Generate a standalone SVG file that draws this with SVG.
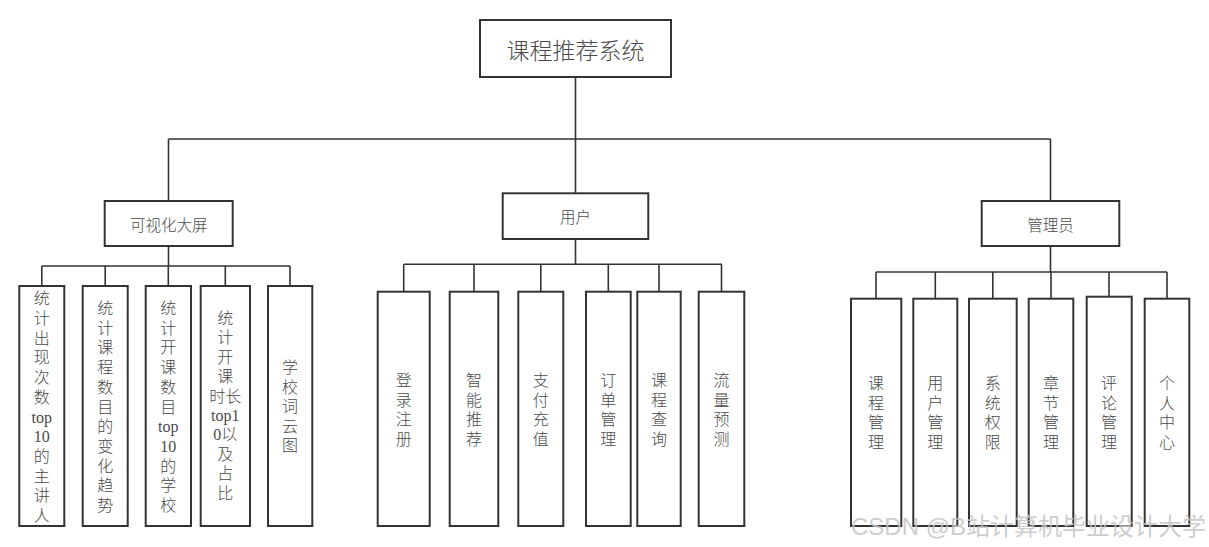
<svg xmlns="http://www.w3.org/2000/svg" width="1209" height="547" viewBox="0 0 1209 547">
<style>
.box{fill:#fff;stroke:#333;stroke-width:2}
.ln{fill:none;stroke:#333;stroke-width:1.6}
.t{font-family:"Liberation Serif","Noto Sans CJK SC",serif;font-weight:300;fill:#4a4a4a;text-anchor:middle;dominant-baseline:central}
.v{font-size:16px}
.h{font-family:"Noto Sans CJK SC",sans-serif;font-size:15.5px}
.wm{font-family:"Liberation Sans","Noto Sans CJK SC",sans-serif;font-size:24px;fill:#c4c4c4;fill-opacity:0.85;text-anchor:end}
</style>
<rect width="1209" height="547" fill="#fff"/>
<g id="connectors">
<path class="ln" d="M575.5 77V139M168.5 139H1050.5M168.5 139V201M575.5 139V193M1050.5 139V201"/>
<path class="ln" d="M168.5 246V266M41.8 266H290M41.8 266V286M105.2 266V286M168.3 266V286M225.3 266V286M290 266V286"/>
<path class="ln" d="M575.5 239V264.3M403.7 264.3H722M403.7 264.3V291.7M474 264.3V291.7M540.8 264.3V291.7M608.3 264.3V291.7M659 264.3V291.7M721.5 264.3V291.7"/>
<path class="ln" d="M1050.5 246V272M876 272H1167M876 272V298.7M935.3 272V298.7M992.8 272V298.7M1051 272V298.7M1109 272V296.7M1167 272V298.7"/>
</g>
<g id="root"><rect class="box" x="480" y="20" width="191" height="57"/><text class="t" x="575.5" y="49" style="font-family:'Noto Sans CJK SC',sans-serif;font-size:23px">课程推荐系统</text></g>
<g id="n-visual"><rect class="box" x="104.7" y="201" width="128" height="45"/><text class="t h" x="168.7" y="224">可视化大屏</text></g>
<g id="n-user"><rect class="box" x="502.7" y="193.3" width="145.6" height="45.7"/><text class="t h" x="575.5" y="216">用户</text></g>
<g id="n-admin"><rect class="box" x="981.7" y="201" width="137.6" height="45"/><text class="t h" x="1050.5" y="224">管理员</text></g>

<g id="v1"><rect class="box" x="19.3" y="286" width="45" height="240"/><text class="t v"><tspan x="41.8" y="298.3">统</tspan><tspan x="41.8" y="318">计</tspan><tspan x="41.8" y="337.7">出</tspan><tspan x="41.8" y="357.4">现</tspan><tspan x="41.8" y="377.1">次</tspan><tspan x="41.8" y="396.8">数</tspan><tspan x="41.8" y="416.5">top</tspan><tspan x="41.8" y="436.2">10</tspan><tspan x="41.8" y="455.9">的</tspan><tspan x="41.8" y="475.6">主</tspan><tspan x="41.8" y="495.3">讲</tspan><tspan x="41.8" y="515">人</tspan></text></g>
<g id="v2"><rect class="box" x="82.7" y="286" width="45" height="240"/><text class="t v"><tspan x="105.2" y="308">统</tspan><tspan x="105.2" y="327.7">计</tspan><tspan x="105.2" y="347.4">课</tspan><tspan x="105.2" y="367.1">程</tspan><tspan x="105.2" y="386.8">数</tspan><tspan x="105.2" y="406.5">目</tspan><tspan x="105.2" y="426.2">的</tspan><tspan x="105.2" y="445.9">变</tspan><tspan x="105.2" y="465.6">化</tspan><tspan x="105.2" y="485.3">趋</tspan><tspan x="105.2" y="505">势</tspan></text></g>
<g id="v3"><rect class="box" x="145.7" y="286" width="45.3" height="240"/><text class="t v"><tspan x="168.3" y="308">统</tspan><tspan x="168.3" y="327.7">计</tspan><tspan x="168.3" y="347.4">开</tspan><tspan x="168.3" y="367.1">课</tspan><tspan x="168.3" y="386.8">数</tspan><tspan x="168.3" y="406.5">目</tspan><tspan x="168.3" y="426.2">top</tspan><tspan x="168.3" y="445.9">10</tspan><tspan x="168.3" y="465.6">的</tspan><tspan x="168.3" y="485.3">学</tspan><tspan x="168.3" y="505">校</tspan></text></g>
<g id="v4"><rect class="box" x="200.7" y="286" width="49.3" height="240"/><text class="t v"><tspan x="225.3" y="318">统</tspan><tspan x="225.3" y="337.4">计</tspan><tspan x="225.3" y="356.8">开</tspan><tspan x="225.3" y="376.2">课</tspan><tspan x="225.3" y="395.6">时长</tspan><tspan x="225.3" y="415">top1</tspan><tspan x="225.3" y="434.4">0以</tspan><tspan x="225.3" y="453.8">及</tspan><tspan x="225.3" y="473.2">占</tspan><tspan x="225.3" y="492.6">比</tspan></text></g>
<g id="v5"><rect class="box" x="268" y="286" width="44.3" height="240"/><text class="t v"><tspan x="290.1" y="367">学</tspan><tspan x="290.1" y="386.6">校</tspan><tspan x="290.1" y="406.2">词</tspan><tspan x="290.1" y="425.8">云</tspan><tspan x="290.1" y="445.4">图</tspan></text></g>

<g id="u1"><rect class="box" x="377.7" y="291.7" width="52" height="234.3"/><text class="t v"><tspan x="403.7" y="380">登</tspan><tspan x="403.7" y="399.5">录</tspan><tspan x="403.7" y="419">注</tspan><tspan x="403.7" y="438.5">册</tspan></text></g>
<g id="u2"><rect class="box" x="449.7" y="291.7" width="48.6" height="234.3"/><text class="t v"><tspan x="474" y="380">智</tspan><tspan x="474" y="399.5">能</tspan><tspan x="474" y="419">推</tspan><tspan x="474" y="438.5">荐</tspan></text></g>
<g id="u3"><rect class="box" x="518.3" y="291.7" width="45" height="234.3"/><text class="t v"><tspan x="540.8" y="380">支</tspan><tspan x="540.8" y="399.5">付</tspan><tspan x="540.8" y="419">充</tspan><tspan x="540.8" y="438.5">值</tspan></text></g>
<g id="u4"><rect class="box" x="586" y="291.7" width="44.7" height="234.3"/><text class="t v"><tspan x="608.3" y="380">订</tspan><tspan x="608.3" y="399.5">单</tspan><tspan x="608.3" y="419">管</tspan><tspan x="608.3" y="438.5">理</tspan></text></g>
<g id="u5"><rect class="box" x="637.3" y="291.7" width="43.4" height="234.3"/><text class="t v"><tspan x="659" y="380">课</tspan><tspan x="659" y="399.5">程</tspan><tspan x="659" y="419">查</tspan><tspan x="659" y="438.5">询</tspan></text></g>
<g id="u6"><rect class="box" x="698.7" y="291.7" width="45.6" height="234.3"/><text class="t v"><tspan x="721.5" y="380">流</tspan><tspan x="721.5" y="399.5">量</tspan><tspan x="721.5" y="419">预</tspan><tspan x="721.5" y="438.5">测</tspan></text></g>

<g id="a1"><rect class="box" x="851" y="298.7" width="50.3" height="227.3"/><text class="t v"><tspan x="876" y="383.3">课</tspan><tspan x="876" y="402.8">程</tspan><tspan x="876" y="422.3">管</tspan><tspan x="876" y="441.8">理</tspan></text></g>
<g id="a2"><rect class="box" x="913.3" y="298.7" width="44" height="227.3"/><text class="t v"><tspan x="935.3" y="383.3">用</tspan><tspan x="935.3" y="402.8">户</tspan><tspan x="935.3" y="422.3">管</tspan><tspan x="935.3" y="441.8">理</tspan></text></g>
<g id="a3"><rect class="box" x="969" y="298.7" width="47.7" height="227.3"/><text class="t v"><tspan x="992.8" y="383.3">系</tspan><tspan x="992.8" y="402.8">统</tspan><tspan x="992.8" y="422.3">权</tspan><tspan x="992.8" y="441.8">限</tspan></text></g>
<g id="a4"><rect class="box" x="1028.7" y="298.7" width="44.6" height="227.3"/><text class="t v"><tspan x="1051" y="383.3">章</tspan><tspan x="1051" y="402.8">节</tspan><tspan x="1051" y="422.3">管</tspan><tspan x="1051" y="441.8">理</tspan></text></g>
<g id="a5"><rect class="box" x="1086.7" y="296.7" width="45" height="229.3"/><text class="t v"><tspan x="1109" y="383.3">评</tspan><tspan x="1109" y="402.8">论</tspan><tspan x="1109" y="422.3">管</tspan><tspan x="1109" y="441.8">理</tspan></text></g>
<g id="a6"><rect class="box" x="1144.7" y="298.7" width="44.6" height="227.3"/><text class="t v"><tspan x="1167" y="383.3">个</tspan><tspan x="1167" y="402.8">人</tspan><tspan x="1167" y="422.3">中</tspan><tspan x="1167" y="441.8">心</tspan></text></g>

<text class="wm" x="1206" y="535">CSDN @B站计算机毕业设计大学</text>
</svg>
